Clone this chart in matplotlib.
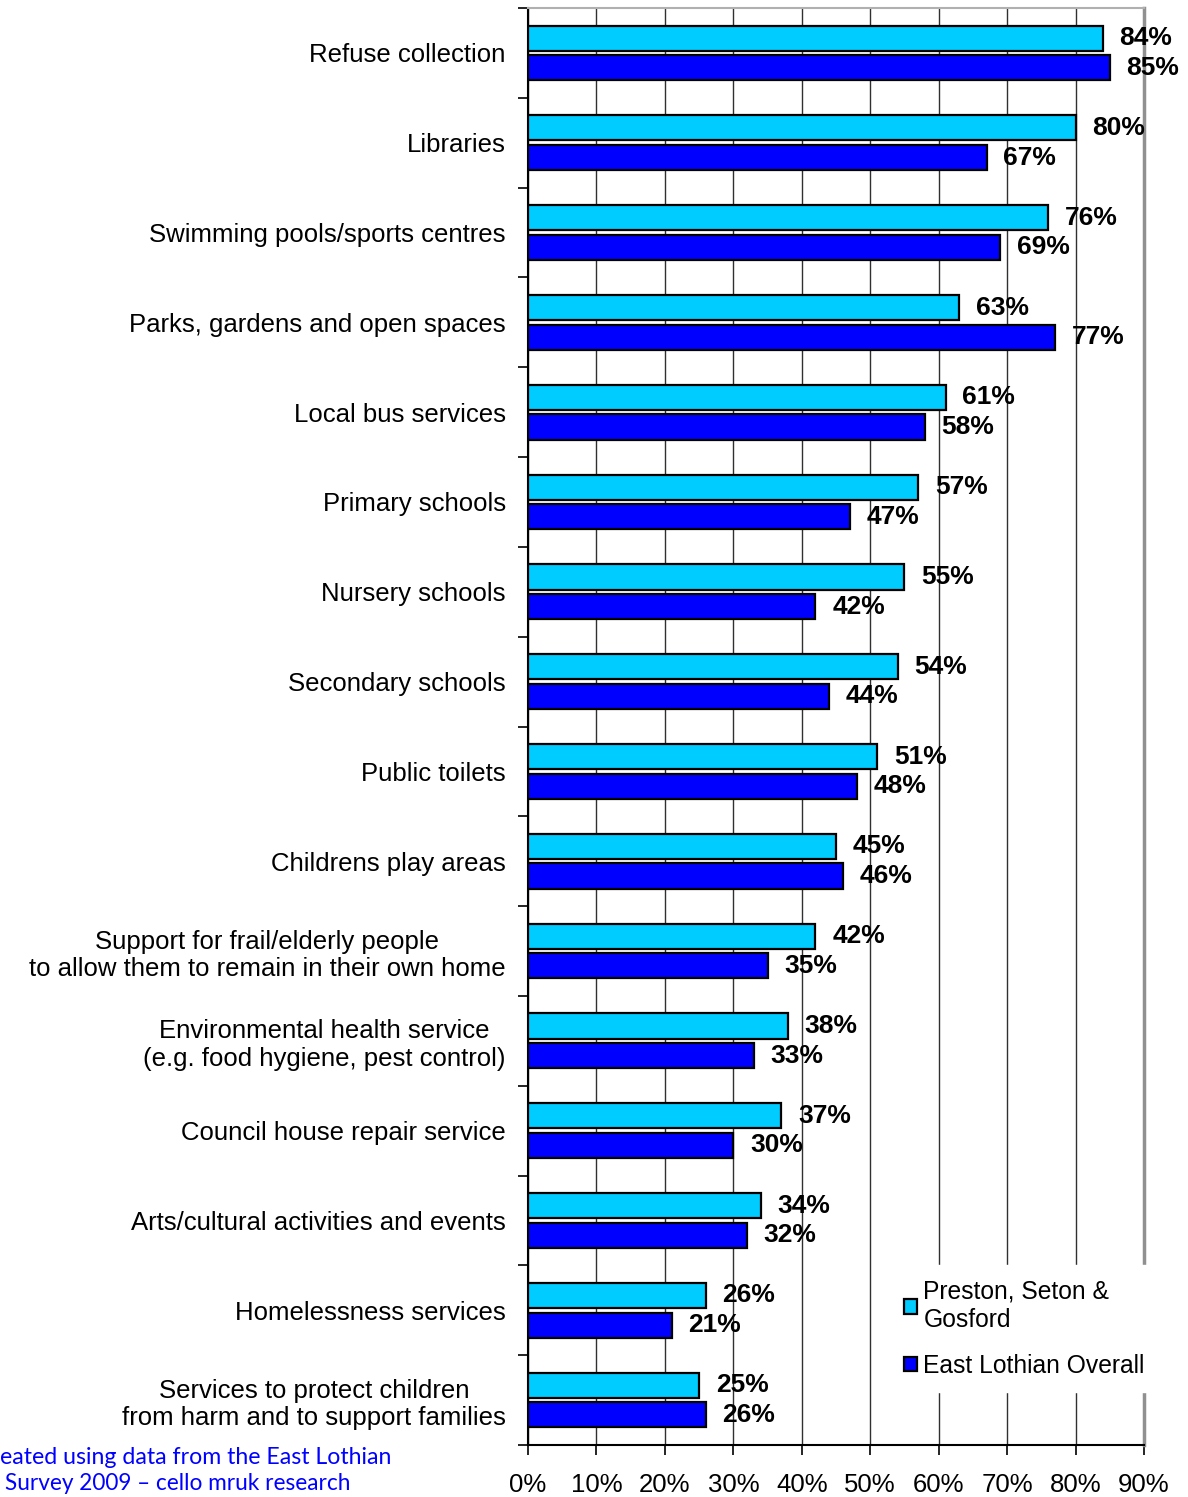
import matplotlib.pyplot as plt
import numpy as np

plt.rcParams['font.family'] = ['Liberation Sans', 'DejaVu Sans']

services = ["Refuse collection", "Libraries", "Swimming pools/sports centres",
            "Parks, gardens and open spaces", "Local bus services", "Primary schools",
            "Nursery schools", "Secondary schools", "Public toilets",
            "Childrens play areas",
            "Support for frail/elderly people\nto allow them to remain in their own home",
            "Environmental health service\n(e.g. food hygiene, pest control)",
            "Council house repair service", "Arts/cultural activities and events",
            "Homelessness services",
            "Services to protect children\nfrom harm and to support families"]
preston = [84, 80, 76, 63, 61, 57, 55, 54, 51, 45, 42, 38, 37, 34, 26, 25]
east_lothian = [85, 67, 69, 77, 58, 47, 42, 44, 48, 46, 35, 33, 30, 32, 21, 26]
xticks = [0, 10, 20, 30, 40, 50, 60, 70, 80, 90]

fig = plt.figure(figsize=(11.88, 14.97), dpi=100)
ax = fig.add_axes([528 / 1188, 1 - 1445 / 1497, (1144 - 528) / 1188, (1445 - 8) / 1497])

n = len(services)
y = np.arange(n)
h = 0.28
off = 0.165

b1 = ax.barh(y - off, preston, height=h, color='#00CCFF', edgecolor='black',
             linewidth=1.6, label='Preston, Seton &\nGosford', zorder=3)
b2 = ax.barh(y + off, east_lothian, height=h, color='#0000FF', edgecolor='black',
             linewidth=1.6, label='East Lothian Overall', zorder=3)

for bars, vals in ((b1, preston), (b2, east_lothian)):
    for b, v in zip(bars, vals):
        ax.annotate(f"{v}%", (v, b.get_y() + b.get_height() / 2), xytext=(12, 0),
                    textcoords='offset points', ha='left', va='center',
                    fontsize=19, fontweight='bold', zorder=4)

ax.set_xlim(0, 90)
ax.set_ylim(n - 0.5, -0.5)
ax.set_xticks(xticks)
ax.set_xticklabels([f"{t}%" for t in xticks], fontsize=18.5)
ax.tick_params(axis='x', length=7, width=1.2, pad=13, direction='out')
ax.grid(axis='x', color='#303030', linewidth=1.0, zorder=0)

ax.set_yticks(y)
ax.set_yticklabels(services, fontsize=18.5, multialignment='center')
ax.tick_params(axis='y', length=0, pad=16)
ax.set_yticks(np.arange(n + 1) - 0.5, minor=True)
ax.tick_params(axis='y', which='minor', length=7, width=1.2, direction='out')

ax.spines['left'].set_color('black')
ax.spines['left'].set_linewidth(1.5)
ax.spines['bottom'].set_color('black')
ax.spines['bottom'].set_linewidth(1.5)
ax.spines['right'].set_color('#909090')
ax.spines['right'].set_linewidth(2.5)
ax.spines['top'].set_color('#b0b0b0')
ax.spines['top'].set_linewidth(1.5)

leg = fig.legend(handles=[b1, b2], loc='upper left',
                 bbox_to_anchor=(889 / 1188, 1 - 1265 / 1497),
                 fontsize=17.7, frameon=True, framealpha=1, edgecolor='white',
                 fancybox=False, handlelength=0.55, handleheight=0.55,
                 handletextpad=0.25, labelspacing=0.9, borderpad=0.6,
                 borderaxespad=0)
leg.set_zorder(10)

# source note, left part is clipped in the original
fig.text(0, 1 - 1458 / 1497, "eated using data from the East Lothian",
         ha='left', va='center', color='#0000FF', fontsize=16.7, family='Lato')
fig.text(5 / 1188, 1 - 1484 / 1497, "Survey 2009 \u2013 cello mruk research",
         ha='left', va='center', color='#0000FF', fontsize=16.3, family='Lato')

fig.savefig('out.png', dpi=100)
